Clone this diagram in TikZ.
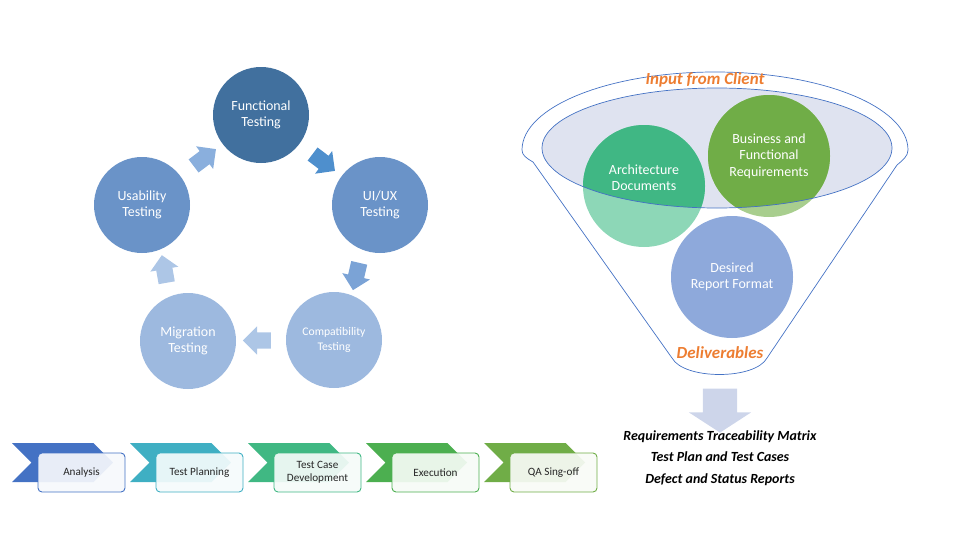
\documentclass[tikz,border=0pt]{standalone}
\usepackage{fontspec}
\setmainfont{Carlito}
\usepackage{tikz}
\usetikzlibrary{shapes.arrows,shapes.symbols,shapes.geometric,calc}
\definecolor{funcblue}{HTML}{41709E}
\definecolor{midblue}{HTML}{6A93C8}
\definecolor{paleblue}{HTML}{9DB9DF}
\definecolor{arrowA}{HTML}{4E8FCD}
\definecolor{arrowB}{HTML}{7BA3D6}
\definecolor{arrowC}{HTML}{ADC6E6}
\definecolor{arrowD}{HTML}{8AAFDD}
\definecolor{funnelblue}{HTML}{4472C4}
\definecolor{lavender}{HTML}{DFE3F0}
\definecolor{archgreen}{HTML}{40B784}
\definecolor{archlight}{HTML}{8DD7B7}
\definecolor{busigreen}{HTML}{70AD47}
\definecolor{busilight}{HTML}{A8CE8E}
\definecolor{reportblue}{HTML}{8EA9DB}
\definecolor{labelorange}{HTML}{ED7D31}
\definecolor{outgrey}{HTML}{CDD5EA}
\definecolor{stepA}{HTML}{4472C4}
\definecolor{stepB}{HTML}{3FAFC3}
\definecolor{stepC}{HTML}{40B883}
\definecolor{stepD}{HTML}{4CAF50}
\definecolor{stepE}{HTML}{70AD47}

\begin{document}
\begin{tikzpicture}[
  testnode/.style={circle,minimum size=96bp,inner sep=0bp,align=center,text=white,font=\fontsize{14}{16.5}\selectfont},
  cyclearrow/.style={single arrow,minimum height=28bp,minimum width=0bp,inner xsep=0bp,inner ysep=8bp,single arrow head extend=6bp},
  inputcircle/.style={circle,minimum size=122bp,inner sep=0bp,align=center,text=white,font=\fontsize{14}{16.5}\selectfont},
  funnelline/.style={draw=funnelblue,line width=0.7bp},
  chevron/.style={signal,signal to=east,signal from=west,minimum width=101bp,minimum height=39bp,inner sep=0bp},
  stepbox/.style={rectangle,rounded corners=4bp,line width=0.9bp,fill opacity=0.92,text opacity=1,minimum width=87bp,minimum height=39bp,inner sep=1bp,align=center,text=black!85,font=\fontsize{11.2}{12.7}\selectfont}]

\useasboundingbox (0bp,0bp) rectangle (960bp,-540bp);

% testing cycle
\node (FT) at (261bp,-115bp)[testnode,fill=funcblue] {Functional\\Testing};
\node (UX) at (380bp,-205bp)[testnode,fill=midblue] {UI/UX\\Testing};
\node (CT) at (334bp,-340bp)[testnode,fill=paleblue,font=\fontsize{11.7}{15}\selectfont] {Compatibility\\Testing};
\node (MT) at (188bp,-341bp)[testnode,fill=paleblue] {Migration\\Testing};
\node (UT) at (142bp,-205bp)[testnode,fill=midblue] {Usability\\Testing};
\node (A1) at ($(FT)!0.5!(UX)$)[cyclearrow,fill=arrowA,rotate=-37] {};
\node (A2) at ($(UX)!0.5!(CT)$)[cyclearrow,fill=arrowB,rotate=-103] {};
\node (A3) at ($(CT)!0.5!(MT)$)[cyclearrow,fill=arrowC,rotate=180] {};
\node (A4) at ($(MT)!0.5!(UT)$)[cyclearrow,fill=arrowC,rotate=100] {};
\node (A5) at ($(UT)!0.5!(FT)$)[cyclearrow,fill=arrowD,rotate=37] {};

% funnel
\draw[funnelline] (522bp,-150bp) .. controls (522bp,-107bp) and (608bp,-72bp) .. (715bp,-72bp) .. controls (822bp,-72bp) and (908bp,-107bp) .. (908bp,-150bp) .. controls (908bp,-156bp) and (903bp,-160bp) .. (897bp,-165bp) -- (767bp,-358bp) .. controls (755bp,-380bp) and (684bp,-380bp) .. (672bp,-358bp) -- (533bp,-162bp) .. controls (526bp,-158bp) and (522bp,-155bp) .. cycle;
\coordinate (ellc) at (717bp,-148bp);
\node (inputs) at (ellc)[ellipse,fill=lavender,minimum width=350bp,minimum height=120bp,inner sep=0bp] {};
\node (arch) at (644bp,-186bp)[inputcircle,fill=archlight,text depth=17bp,path picture={\fill[archgreen] (ellc) ellipse [x radius=175bp,y radius=60bp];}] {Architecture\\Documents};
\node (busi) at (769bp,-156bp)[inputcircle,fill=busilight,path picture={\fill[busigreen] (ellc) ellipse [x radius=175bp,y radius=60bp];}] {Business and\\Functional\\Requirements};
\node (report) at (732bp,-277bp)[inputcircle,fill=reportblue] {Desired\\Report Format};
\draw[funnelline] (inputs.center) ellipse [x radius=175bp,y radius=60bp];
\node (client) at (705bp,-80bp)[text=labelorange,font=\bfseries\itshape\fontsize{17}{19}\selectfont] {Input from Client};
\node (deliv) at (720bp,-353bp)[text=labelorange,font=\bfseries\itshape\fontsize{17}{19}\selectfont] {Deliverables};
\node (outarrow) at (720bp,-405bp)[single arrow,rotate=-90,fill=outgrey,minimum height=44bp,minimum width=0bp,inner xsep=0bp,inner ysep=17bp,single arrow head extend=14bp,single arrow tip angle=114] {};
\node (results) at (720bp,-458bp)[align=center,font=\bfseries\itshape\fontsize{14}{21.5}\selectfont] {Requirements Traceability Matrix\\Test Plan and Test Cases\\Defect and Status Reports};

% process steps
\node (c1) at (62.5bp,-462.5bp)[chevron,fill=stepA] {};
\node (c2) at (180.5bp,-462.5bp)[chevron,fill=stepB] {};
\node (c3) at (298.5bp,-462.5bp)[chevron,fill=stepC] {};
\node (c4) at (416.5bp,-462.5bp)[chevron,fill=stepD] {};
\node (c5) at (534.5bp,-462.5bp)[chevron,fill=stepE] {};
\node (s1) at (81.5bp,-472.5bp)[stepbox,draw=stepA,fill=stepA!5] {Analysis};
\node (s2) at (199.5bp,-472.5bp)[stepbox,draw=stepB,fill=stepB!5] {Test Planning};
\node (s3) at (317.5bp,-472.5bp)[stepbox,draw=stepC,fill=stepC!5] {Test Case\\Development};
\node (s4) at (435.5bp,-472.5bp)[stepbox,draw=stepD,fill=stepD!5] {Execution};
\node (s5) at (553.5bp,-472.5bp)[stepbox,draw=stepE,fill=stepE!5] {QA Sing-off};
\end{tikzpicture}
\end{document}
